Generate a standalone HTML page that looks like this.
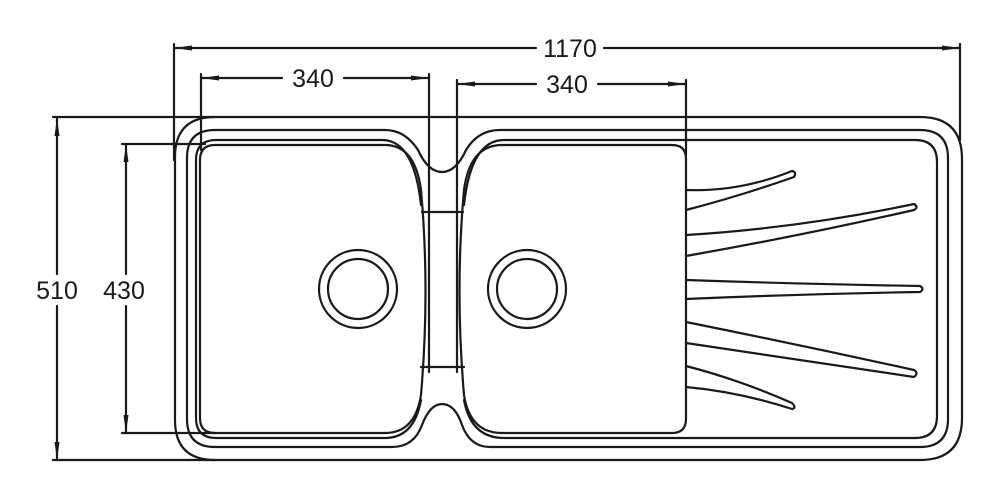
<!DOCTYPE html>
<html><head><meta charset="utf-8"><style>
html,body{margin:0;padding:0;background:#fff;}
svg{display:block;}
text{font-family:"Liberation Sans",sans-serif;font-size:25px;fill:#1a1a1a;}
</style></head><body>
<svg width="1000" height="500" viewBox="0 0 1000 500" xmlns="http://www.w3.org/2000/svg">
<g fill="none" stroke="#1a1a1a" stroke-width="2.2" stroke-linejoin="round" stroke-linecap="round">
<!-- dimension lines -->
<line x1="174" y1="48" x2="536" y2="48"/><line x1="604" y1="48" x2="960" y2="48"/>
<line x1="174" y1="44" x2="174" y2="160"/><line x1="960" y1="44" x2="960" y2="140"/>
<line x1="201" y1="78" x2="282" y2="78"/><line x1="344" y1="78" x2="429" y2="78"/>
<line x1="201" y1="74" x2="201" y2="150"/><line x1="429" y1="74" x2="429" y2="372"/>
<line x1="457" y1="84" x2="536" y2="84"/><line x1="598" y1="84" x2="686" y2="84"/>
<line x1="457" y1="80" x2="457" y2="372"/><line x1="686" y1="80" x2="686" y2="155"/>
<line x1="57" y1="118" x2="57" y2="274"/><line x1="57" y1="306" x2="57" y2="460"/>
<line x1="53" y1="117" x2="215" y2="117"/><line x1="53" y1="460" x2="215" y2="460"/>
<line x1="126" y1="144" x2="126" y2="274"/><line x1="126" y1="306" x2="126" y2="433"/>
<line x1="122" y1="144" x2="205" y2="144"/><line x1="122" y1="433" x2="215" y2="433"/>
<!-- outer -->
<path d="M215 117 L920 117 Q962 117 962 159 L962 418 Q962 460 920 460 L215 460 Q175 460 175 420 L175 157 Q175 117 215 117 Z"/>
<!-- rim line 2 -->
<path d="M215 130 L385 130 Q405 130 418 150 Q428 172 442 172 Q456 172 466 150 Q478 130 500 130 L920 130 Q948 130 948 158 L948 419 Q948 447 920 447 L490 447 Q470 447 462 425 Q455 404 442 404 Q430 404 422 425 Q414 447 392 447 L215 447 Q187 447 187 419 L187 158 Q187 130 215 130 Z"/>
<!-- line 3 -->
<path d="M421 205 Q414 140 382 140 L216 140 Q196 140 196 160 L196 418 Q196 438 216 438 L385 438 Q414 438 421 400"/>
<path d="M464 205 Q471 140 504 140 L915 140 Q937 140 937 162 L937 416 Q937 438 915 438 L504 438 Q471 438 464 400"/>
<!-- bowls -->
<path d="M215 145 L385 145 Q415 145 421 190 Q430 290 421 395 Q415 433 385 433 L215 433 Q200 433 200 418 L200 160 Q200 145 215 145 Z"/>
<path d="M502 145 L672 145 Q686 145 686 159 L686 419 Q686 433 672 433 L502 433 Q470 433 464 395 Q455 290 464 190 Q470 145 502 145 Z"/>
<!-- bridge bars -->
<line x1="422" y1="212" x2="463" y2="212"/><line x1="421" y1="367" x2="464" y2="367"/>
<!-- drains -->
<circle cx="358" cy="289" r="39"/><circle cx="358" cy="289" r="30"/>
<circle cx="527" cy="289" r="39"/><circle cx="527" cy="289" r="30"/>
<!-- ribs -->
<path d="M686 190 Q740 192 792 171 Q797 172 794 177 Q740 196 686 210"/>
<path d="M686 235 Q800 228 914 204 Q919 207 914 210 Q800 236 686 256"/>
<path d="M686 280 Q800 284 920 286 Q925 289 920 292 Q800 294 686 299"/>
<path d="M686 322 Q800 345 914 370 Q919 373 914 377 Q800 360 686 343"/>
<path d="M686 366 Q740 380 792 403 Q797 408 792 409 Q740 392 686 387"/>
</g>
<g fill="#1a1a1a">
<polygon points="174,48 192,45.5 192,50.5"/><polygon points="960,48 942,45.5 942,50.5"/>
<polygon points="201,78 219,75.5 219,80.5"/><polygon points="429,78 411,75.5 411,80.5"/>
<polygon points="457,84 475,81.5 475,86.5"/><polygon points="686,84 668,81.5 668,86.5"/>
<polygon points="57,118 54.5,136 59.5,136"/><polygon points="57,460 54.5,442 59.5,442"/>
<polygon points="126,144 123.5,162 128.5,162"/><polygon points="126,433 123.5,415 128.5,415"/>
</g>
<text x="570" y="57" text-anchor="middle">1170</text>
<text x="313" y="87" text-anchor="middle">340</text>
<text x="567" y="93" text-anchor="middle">340</text>
<text x="57" y="299" text-anchor="middle">510</text>
<text x="124" y="299" text-anchor="middle">430</text>
</svg>
</body></html>
